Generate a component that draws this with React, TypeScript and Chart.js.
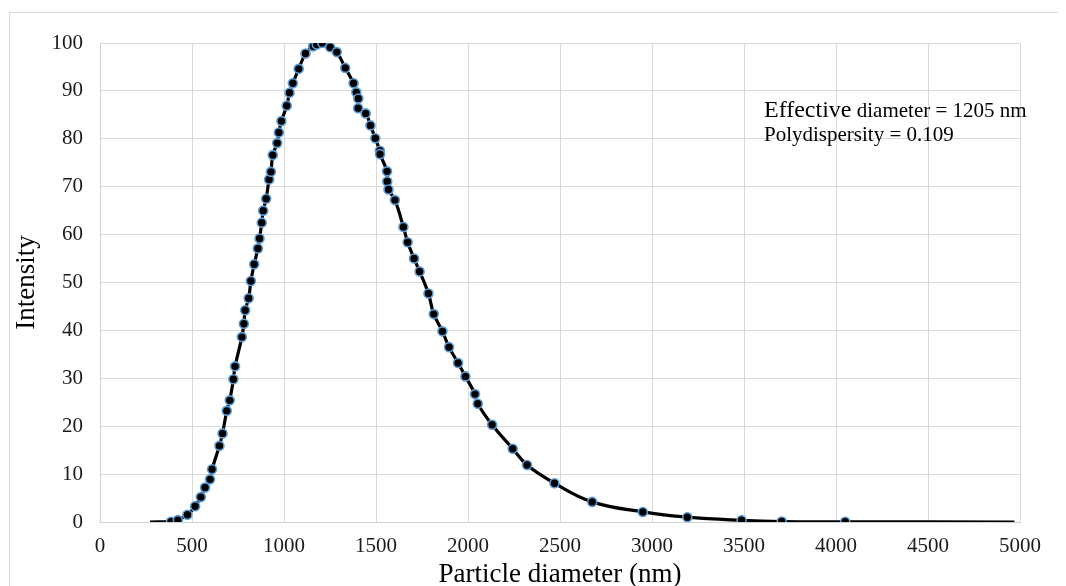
import React, { useEffect, useRef } from "react";
import { Chart, registerables } from "chart.js";

Chart.register(...registerables);

// Particle diameter (nm) — first and last entries are the ends of the fitted line (no marker)
const diameters = [
  272, 386, 423, 475, 517, 548, 571, 598, 609, 649, 666, 689, 705, 725, 734, 771, 782, 789, 808, 820,
  838, 858, 867, 879, 887, 903, 919, 929, 939, 963, 972, 986, 1015, 1030, 1048, 1080, 1117, 1159, 1178, 1208,
  1251, 1287, 1333, 1378, 1393, 1404, 1403, 1444, 1470, 1496, 1521, 1522, 1560, 1561, 1568, 1603, 1649, 1672, 1707, 1737,
  1785, 1814, 1861, 1897, 1946, 1986, 2038, 2053, 2131, 2243, 2321, 2470, 2675, 2950, 3192, 3487, 3705, 4050, 4970,
];

// Intensity
const intensities = [
  0, 0.05, 0.4, 1.5, 3.3, 5.2, 7.2, 8.9, 11.0, 15.9, 18.5, 23.2, 25.4, 29.8, 32.5, 38.6, 41.4, 44.2, 46.7, 50.3,
  53.8, 57.1, 59.2, 62.5, 65.0, 67.5, 71.5, 73.1, 76.6, 79.1, 81.3, 83.7, 86.9, 89.6, 91.6, 94.6, 97.8, 99.3, 99.7, 100,
  99.1, 98.1, 94.8, 91.6, 89.7, 88.4, 86.4, 85.3, 82.8, 80.1, 77.5, 76.8, 73.2, 71.1, 69.4, 67.2, 61.6, 58.4, 55.0, 52.3,
  47.7, 43.4, 39.8, 36.5, 33.2, 30.4, 26.7, 24.7, 20.3, 15.3, 11.9, 8.1, 4.2, 2.1, 1.0, 0.35, 0.1, 0.05, 0,
];

const xTickStep = 500;
const yTickStep = 10;
const xTitle = "Particle diameter (nm)";
const yTitle = "Intensity";
const annotationLead = "Effective";
const annotationRest = " diameter = 1205 nm";
const annotationLine2 = "Polydispersity = 0.109";

const FONT = '"Liberation Serif", "Times New Roman", serif';

export default function App() {
  const ref = useRef<HTMLCanvasElement | null>(null);

  useEffect(() => {
    const canvas = ref.current;
    if (!canvas) return;

    const borderPlugin = {
      id: "outerBorder",
      beforeDraw(chart: any) {
        const ctx = chart.ctx;
        ctx.save();
        ctx.strokeStyle = "#d9d9d9";
        ctx.lineWidth = 1;
        ctx.strokeRect(1.5, 4.5, 3000, 3000);
        ctx.restore();
      },
    };

    const annotationPlugin = {
      id: "annotation",
      afterDraw(chart: any) {
        const ctx = chart.ctx;
        ctx.save();
        ctx.fillStyle = "#000";
        ctx.textBaseline = "alphabetic";
        ctx.textAlign = "left";
        const x = 756;
        ctx.font = `24px ${FONT}`;
        ctx.fillText(annotationLead, x, 109);
        const w = ctx.measureText(annotationLead).width;
        ctx.font = `21px ${FONT}`;
        ctx.fillText(annotationRest, x + w, 109);
        ctx.fillText(annotationLine2, x, 133);
        ctx.restore();
      },
    };

    const data = diameters.map((d, i) => ({ x: d, y: intensities[i] }));
    const last = data.length - 1;
    const plain = (v: any) => String(v);

    const chart = new Chart(canvas, {
      type: "scatter",
      data: {
        datasets: [
          {
            data,
            showLine: true,
            borderColor: "#000",
            borderWidth: 3.2,
            tension: 0.4,
            pointRadius: (c: any) => (c.dataIndex === 0 || c.dataIndex === last ? 0 : 4.5),
            pointBackgroundColor: "#000",
            pointBorderColor: "#5b9bd5",
            pointBorderWidth: 1.6,
          },
        ],
      },
      options: {
        responsive: false,
        maintainAspectRatio: false,
        animation: false,
        events: [],
        layout: { padding: { left: 0, top: 35, right: 46, bottom: 0 } },
        plugins: {
          legend: { display: false },
          tooltip: { enabled: false },
        },
        scales: {
          x: {
            type: "linear",
            min: 0,
            max: 5000,
            afterFit(scale: any) {
              scale.height = 64;
            },
            ticks: {
              stepSize: xTickStep,
              padding: 12,
              color: "#1a1a1a",
              font: { family: FONT, size: 21 },
              maxRotation: 0,
              callback: plain,
            },
            grid: { color: "#d9d9d9", lineWidth: 1, drawTicks: false },
            border: { color: "#d0d0d0" },
            title: {
              display: true,
              text: xTitle,
              color: "#000",
              font: { family: FONT, size: 27, lineHeight: 0.8 },
              padding: 0,
            },
          },
          y: {
            min: 0,
            max: 100,
            afterFit(scale: any) {
              scale.width = 92;
            },
            ticks: {
              stepSize: yTickStep,
              padding: 17,
              color: "#1a1a1a",
              font: { family: FONT, size: 21 },
              callback: plain,
            },
            grid: { color: "#d9d9d9", lineWidth: 1, drawTicks: false },
            border: { color: "#d0d0d0" },
            title: {
              display: true,
              text: yTitle,
              color: "#000",
              font: { family: FONT, size: 27 },
              padding: { top: 3, bottom: 0 },
            },
          },
        },
      },
      plugins: [borderPlugin, annotationPlugin],
    } as any);

    return () => chart.destroy();
  }, []);

  return (
    <div style={{ width: 1058, height: 578 }}>
      <canvas ref={ref} width={1058} height={578} style={{ display: "block", width: 1058, height: 578 }} />
    </div>
  );
}
